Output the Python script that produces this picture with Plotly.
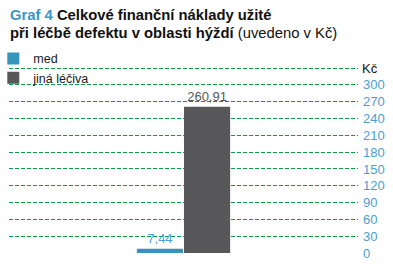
import plotly.graph_objects as go

categories = ["Graf 4"]
series_names = ["med", "jiná léčiva"]
series_values = [[7.44], [260.91]]
series_colors = ["#3794bd", "#58585a"]
label_colors = ["#4a9fd0", "#58585a"]
grid_vals = [0, 30, 60, 90, 120, 150, 180, 210, 240, 270, 300, 330, 360]
tick_labels = ["0", "30", "60", "90", "120", "150", "180", "210", "240", "270", "300", "", ""]
unit_label = "Kč"
title_line1 = "<span style='color:#3a96c8'>Graf 4</span> Celkové finanční náklady užité"
title_line2 = "při léčbě defektu v oblasti hýždí <span style='font-weight:normal'>(uvedeno v Kč)</span>"

fig = go.Figure()
for name, vals, col, lc in zip(series_names, series_values, series_colors, label_colors):
    fig.add_trace(go.Bar(
        x=categories, y=vals, name=name, marker=dict(color=col, line=dict(width=0)),
        texttemplate="%{y:.2f}", textposition="outside", cliponaxis=False,
        textfont=dict(color=lc, size=13, family="Liberation Sans"),
    ))

fig.update_layout(
    width=393, height=269,
    margin=dict(l=9, r=35, t=51, b=16, autoexpand=False),
    paper_bgcolor="white", plot_bgcolor="white",
    separators=", ",
    barmode="group", bargap=0.73, bargroupgap=0.02,
    font=dict(family="Liberation Sans", size=13, color="#1a1a1a"),
    showlegend=True,
    legend=dict(x=-0.045, y=1.035, xanchor="left", yanchor="top", bgcolor="rgba(0,0,0,0)",
                font=dict(size=12.5, color="#1a1a1a"), itemwidth=30,
                tracegroupgap=0),
    xaxis=dict(showticklabels=False, showgrid=False, zeroline=False, showline=False),
    yaxis=dict(range=[0, 360.5], side="right", tickvals=grid_vals, ticktext=tick_labels,
               showgrid=True, gridcolor="#0a9a45", griddash="4px,2px", gridwidth=1,
               zeroline=False, showline=False, ticks="",
               tickfont=dict(color="#4a9fd0", size=13), ticklabelstandoff=4),
)
title_font = dict(family="Liberation Sans", size=14.8, color="#111111", weight="bold")
fig.add_annotation(x=0, xref="paper", xanchor="left", xshift=-1, y=1, yref="paper", yanchor="middle",
                   yshift=36, text=title_line1, showarrow=False, font=title_font)
fig.add_annotation(x=0, xref="paper", xanchor="left", xshift=-1, y=1, yref="paper", yanchor="middle",
                   yshift=18, text=title_line2, showarrow=False, font=title_font)
fig.add_annotation(x=1, xref="paper", xanchor="left", xshift=2, y=330, yref="y",
                   text=unit_label, showarrow=False,
                   font=dict(color="#111111", size=13))
fig.write_html("out.html")
